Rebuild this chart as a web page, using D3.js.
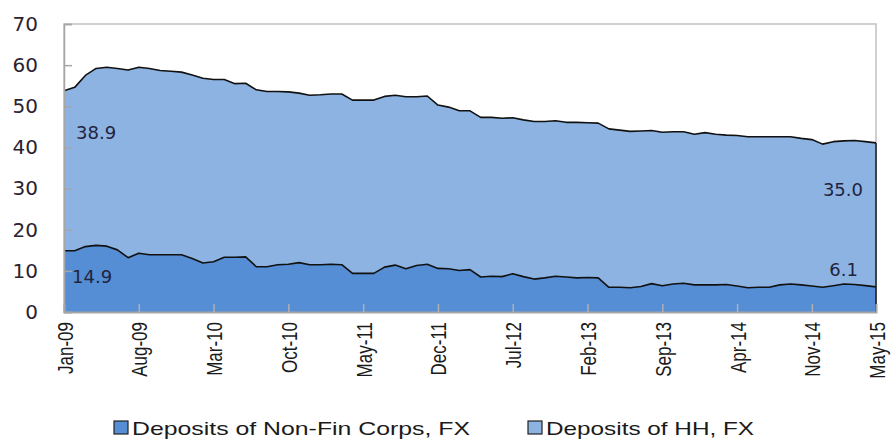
<!DOCTYPE html>
<html>
<head>
<meta charset="utf-8">
<script src="https://cdn.jsdelivr.net/npm/d3@7"></script>
<style>
  html, body { margin: 0; padding: 0; background: #fff; }
  svg { display: block; }
</style>
</head>
<body>
<svg id="chart" width="893" height="439"></svg>
<script>
// ---- data ----
const startMonth = new Date(2009, 0, 1);
const months = d3.timeMonth.range(startMonth, new Date(2015, 5, 1)); // Jan-09 .. May-15
const seriesNames = ["Deposits of Non-Fin Corps, FX", "Deposits of HH, FX"];
const corpsFX = [14.9,14.9,15.9,16.2,16.0,15.1,13.2,14.3,13.9,13.9,13.9,13.9,13.0,11.9,12.2,13.3,13.3,13.4,11.0,11.0,
                 11.5,11.6,12.0,11.5,11.5,11.6,11.5,9.4,9.4,9.4,10.9,11.4,10.5,11.3,11.6,10.6,10.5,10.1,10.3,8.5,
                 8.7,8.6,9.3,8.6,8.0,8.3,8.7,8.5,8.3,8.4,8.3,6.0,6.0,5.9,6.2,6.9,6.4,6.8,7.0,6.6,
                 6.6,6.6,6.7,6.3,5.9,6.0,6.0,6.6,6.8,6.6,6.3,6.0,6.4,6.8,6.7,6.4,6.1];
const hhFX =    [38.9,39.7,41.6,43.0,43.5,44.1,45.6,45.2,45.3,44.8,44.6,44.4,44.6,44.9,44.3,43.2,42.2,42.2,43.0,42.6,
                 42.1,41.9,41.2,41.2,41.3,41.4,41.5,42.1,42.1,42.1,41.5,41.3,41.8,41.0,40.9,39.7,39.3,38.8,38.6,38.8,
                 38.6,38.5,37.9,38.1,38.3,38.0,37.8,37.6,37.8,37.6,37.6,38.5,38.2,38.0,37.8,37.2,37.3,37.0,36.8,36.6,
                 37.0,36.6,36.3,36.6,36.7,36.6,36.6,36.0,35.8,35.6,35.6,34.8,35.0,34.8,35.0,35.0,35.0];
const xTickIndex = [0,7,14,21,28,35,42,49,56,63,70,76];
const xTickLabels = ["Jan-09","Aug-09","Mar-10","Oct-10","May-11","Dec-11","Jul-12","Feb-13","Sep-13","Apr-14","Nov-14","May-15"];
const yTicks = [0,10,20,30,40,50,60,70];
const colors = ["#558ed5", "#8db3e2"];

// ---- layout ----
const svg = d3.select("#chart");
const L = 64, R = 876, T = 24, B = 312;

const x = d3.scaleLinear().domain([0, months.length - 1]).range([L, R]);
const y = d3.scaleLinear().domain([0, 70]).range([B, T]);

const rows = months.map((m, i) => ({ i, corps: corpsFX[i], hh: hhFX[i] }));
const stacked = d3.stack().keys(["corps", "hh"])(rows);

// plot border (top & right)
svg.append("rect").attr("x", L).attr("y", T).attr("width", R - L).attr("height", B - T)
  .attr("fill", "none").attr("stroke", "#c0c0c0").attr("stroke-width", 1.5);

const area = d3.area().x(d => x(d.data.i)).y0(d => y(d[0])).y1(d => y(d[1]));
const line = d3.line().x(d => x(d.data.i)).y(d => y(d[1]));

svg.selectAll("path.area").data(stacked).join("path")
  .attr("class", "area").attr("d", area).attr("fill", (d, k) => colors[k]);

svg.selectAll("path.edge").data(stacked).join("path")
  .attr("class", "edge").attr("d", line).attr("fill", "none")
  .attr("stroke", "#111").attr("stroke-width", 1.6).attr("stroke-linejoin", "round");

// right edge of the series
const last = stacked[1][months.length - 1];
svg.append("line").attr("x1", x(months.length - 1)).attr("x2", x(months.length - 1))
  .attr("y1", y(last[1])).attr("y2", y(0)).attr("stroke", "#222").attr("stroke-width", 1.6);

// y axis (ticks inward)
const yAxis = d3.axisLeft(y).tickValues(yTicks).tickSize(-8).tickPadding(26).tickFormat(d3.format("d"));
const gy = svg.append("g").attr("transform", `translate(${L},0)`).call(yAxis);
gy.select(".domain").attr("stroke", "#a6a6a6").attr("stroke-width", 1.5);
gy.selectAll(".tick line").attr("stroke", "#a6a6a6").attr("stroke-width", 1.5);
gy.selectAll(".tick text").style("font-family", "'DejaVu Sans', Verdana, sans-serif")
  .style("font-size", "20px").attr("fill", "#2a2230");

// x axis (ticks inward, rotated labels)
const xAxis = d3.axisBottom(x).tickValues(xTickIndex).tickSize(-8)
  .tickFormat((d, k) => xTickLabels[k]);
const gx = svg.append("g").attr("transform", `translate(0,${B})`).call(xAxis);
gx.select(".domain").attr("stroke", "#a6a6a6").attr("stroke-width", 2);
gx.selectAll(".tick line").attr("stroke", "#b0b0b0").attr("stroke-width", 1.5)
  .attr("display", (d, k) => k === 0 || k === xTickIndex.length - 1 ? "none" : null);
gx.selectAll(".tick text")
  .style("font-family", "'Liberation Sans', Arial, sans-serif").style("font-size", "17px").attr("fill", "#1a1a1a")
  .attr("transform", "rotate(-90) scale(1,1.35)").attr("text-anchor", "end")
  .attr("x", -10).attr("y", 0).attr("dy", "0.35em");

// value labels
const labelFont = "'DejaVu Sans', Verdana, sans-serif";
const n = months.length - 1;
const valueLabels = [
  { i: 0, v: hhFX[0], yv: stacked[1][0][1] - 10.2, anchor: "start", dx: 12 },
  { i: 0, v: corpsFX[0], yv: 8.6, anchor: "start", dx: 8 },
  { i: n, v: hhFX[n], yv: 29.7, anchor: "end", dx: -13 },
  { i: n, v: corpsFX[n], yv: 10.3, anchor: "end", dx: -18 }
];
svg.selectAll("text.val").data(valueLabels).join("text")
  .attr("class", "val")
  .attr("x", d => x(d.i) + d.dx).attr("y", d => y(d.yv)).attr("dy", "0.35em")
  .attr("text-anchor", d => d.anchor)
  .style("font-family", labelFont).style("font-size", "18px").attr("fill", "#1f2440")
  .text(d => d3.format(".1f")(d.v));

// legend
const legendX = [114, 528];
const legendLen = [338, 208];
const lg = svg.selectAll("g.leg").data(seriesNames).join("g")
  .attr("class", "leg").attr("transform", (d, k) => `translate(${legendX[k]},421)`);
lg.append("rect").attr("x", 0).attr("y", 0).attr("width", 14).attr("height", 13)
  .attr("fill", (d, k) => colors[k]).attr("stroke", "#222").attr("stroke-width", 1.2);
lg.append("text").attr("x", 18).attr("y", 13.5)
  .style("font-family", "'Liberation Sans', Arial, sans-serif").style("font-size", "19px").attr("fill", "#1a1a1a")
  .attr("textLength", (d, k) => legendLen[k]).attr("lengthAdjust", "spacingAndGlyphs")
  .text(d => d);
</script>
</body>
</html>
